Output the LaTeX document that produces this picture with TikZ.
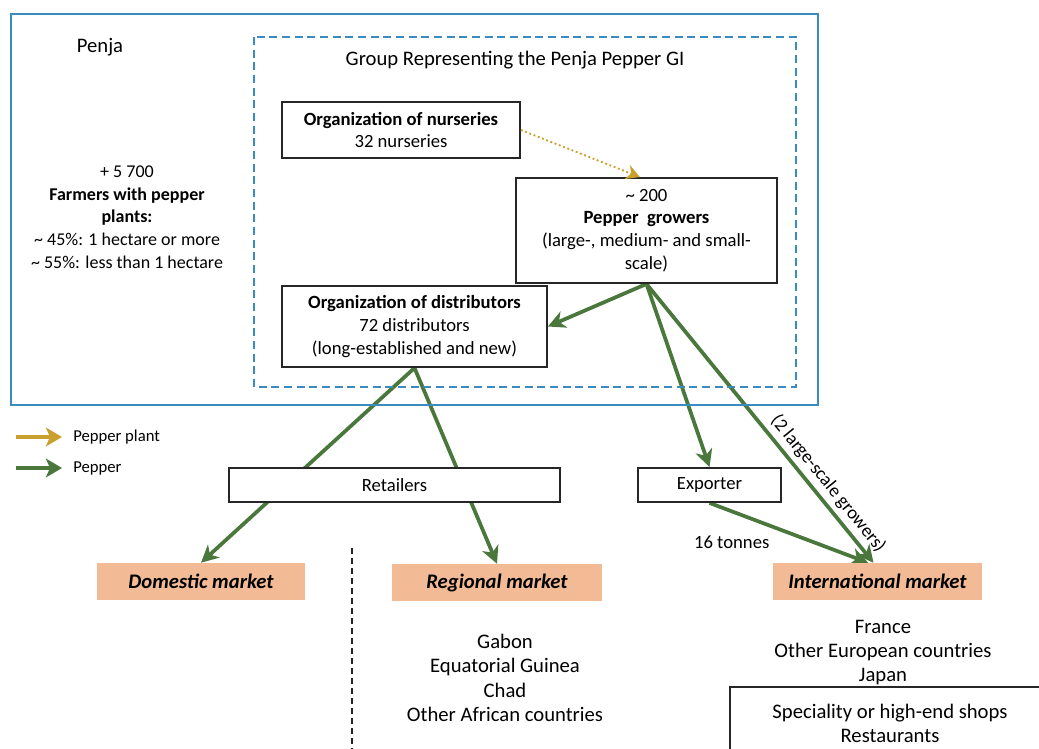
\documentclass[tikz,border=0pt]{standalone}
\usepackage{fontspec}
\setmainfont{Carlito}
\usetikzlibrary{arrows.meta}
\definecolor{giblue}{RGB}{58,140,192}
\definecolor{pepgreen}{RGB}{74,120,60}
\definecolor{plantgold}{RGB}{201,160,46}
\definecolor{marketfill}{RGB}{242,187,150}
\pgfdeclarelayer{background}
\pgfsetlayers{background,main}
\tikzset{
  box/.style={draw=black!85,line width=1.4pt,fill=white,align=center,inner sep=0pt},
  market/.style={fill=marketfill,font=\fontsize{15.5}{18}\selectfont\bfseries\itshape,inner sep=0pt},
  pepper/.style={-{Stealth[length=13pt,width=13pt,inset=4pt]},draw=pepgreen,line width=2.8pt},
  plant/.style={-{Stealth[length=10pt,width=11pt,inset=3pt]},draw=plantgold,line width=1.4pt,dotted},
  plain/.style={align=center,inner sep=0pt},
  bigtext/.style={font=\fontsize{15.5}{18.3}\selectfont}
}
\begin{document}
\begin{tikzpicture}[x=0.75pt,y=-0.75pt,font=\fontsize{14}{17}\selectfont]
\useasboundingbox (0,0) rectangle (1039,749);
% Penja area
\draw[giblue,line width=1.9pt] (11,14) rectangle (818,405);
\draw[giblue,line width=1.5pt,dash pattern=on 6pt off 3.5pt] (254,37) rectangle (796,387);
\node[plain,bigtext] (penja) at (100,47) {Penja};
\node[plain,bigtext] (group) at (515,60) {Group Representing the Penja Pepper GI};
\node[plain,font=\fontsize{13.5}{17}\selectfont] (farmers) at (127,217) {+ 5 700\\\textbf{Farmers with pepper}\\\textbf{plants:}\\\textasciitilde{} 45\%: 1 hectare or more\\\textasciitilde{} 55\%: less than 1 hectare};
% actors
\node[box,minimum width=178.5pt,minimum height=42pt] (nurseries) at (401,130) {\textbf{Organization of nurseries}\\32 nurseries};
\node[box,minimum width=195.75pt,minimum height=78.75pt] (growers) at (646.5,230.5) {\textasciitilde{} 200\\\textbf{Pepper\ \ growers}\\(large-, medium- and small-\\scale)};
\node[box,minimum width=198.75pt,minimum height=60.75pt] (distributors) at (414.5,326.5) {\textbf{Organization of distributors}\\72 distributors\\(long-established and new)};
\node[box,minimum width=248.25pt,minimum height=25.5pt] (retailers) at (394.5,485) {Retailers};
\node[box,minimum width=107.25pt,minimum height=25.5pt] (exporter) at (709.5,485) {Exporter};
% markets
\node[market,minimum width=156pt,minimum height=27.75pt] (domestic) at (201,581.5) {Domestic market};
\node[market,minimum width=157.5pt,minimum height=27.75pt] (regional) at (497,582.5) {Regional market};
\node[market,minimum width=156.75pt,minimum height=27.75pt] (international) at (877.5,581.5) {International market};
\node[plain,bigtext] (africa) at (505,678) {Gabon\\Equatorial Guinea\\Chad\\Other African countries};
\node[plain,font=\fontsize{15.5}{18}\selectfont] (abroad) at (883,653) {France\\Other European countries\\Japan};
\node[box,font=\fontsize{15.5}{18}\selectfont,minimum width=240pt,minimum height=54pt] (shops) at (890,723) {Speciality or high-end shops\\Restaurants};
\draw[black!85,line width=1.4pt,dash pattern=on 4.5pt off 3pt] (352,548) -- (352,749);
% flows
\draw[plant] (nurseries.east) -- ([xshift=-5pt]growers.north);
\begin{pgfonlayer}{background}
\draw[pepper] (growers.south) -- (distributors.east);
\draw[pepper] (growers.south) -- (exporter.north);
\draw[pepper] (growers.south) -- node[sloped,above,pos=0.75,text=black] {(2 large-scale growers)} ([xshift=-3pt]international.north);
\draw[pepper] (distributors.south) -- (domestic.north);
\draw[pepper] (distributors.south) -- (regional.north);
\draw[pepper] (exporter.south) -- node[pos=0.14,below=14pt,text=black] {16 tonnes} ([xshift=-7pt]international.north);
\end{pgfonlayer}
% legend
\coordinate (plantA) at (16,437);
\coordinate (plantB) at (62,437);
\coordinate (pepA) at (16,468);
\coordinate (pepB) at (62,468);
\draw[-{Stealth[length=12pt,width=14pt,inset=3pt]},plantgold,line width=3.5pt] (plantA) -- (plantB);
\draw[-{Stealth[length=12pt,width=14pt,inset=3pt]},pepgreen,line width=3.5pt] (pepA) -- (pepB);
\node[anchor=west,inner sep=0pt,font=\fontsize{12.5}{14}\selectfont] (plantlbl) at (73,437) {Pepper plant};
\node[anchor=west,inner sep=0pt,font=\fontsize{12.5}{14}\selectfont] (peplbl) at (73,468) {Pepper};
\end{tikzpicture}
\end{document}
